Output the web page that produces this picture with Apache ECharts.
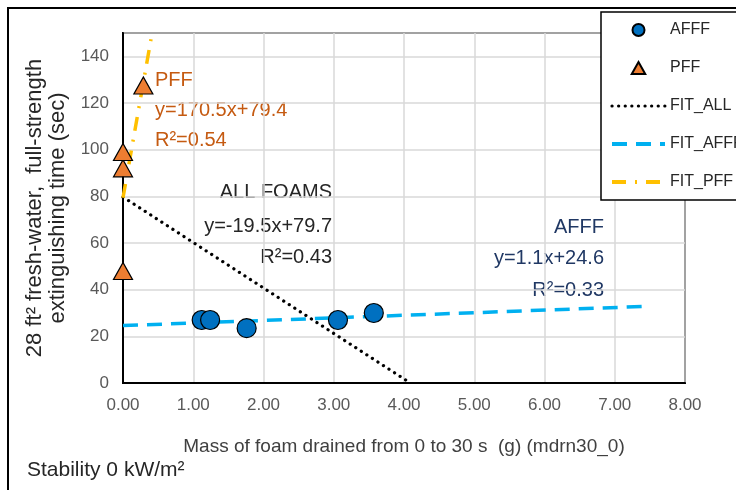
<!DOCTYPE html>
<html><head><meta charset="utf-8">
<script src="https://cdn.jsdelivr.net/npm/echarts@6/dist/echarts.min.js"></script>
<style>html,body{margin:0;padding:0;background:#fff}#c{width:736px;height:490px}</style>
</head><body><div id="c"></div>
<script>
// Data
const afffPoints = [[1.12, 27], [1.24, 27], [1.76, 23.5], [3.06, 27], [3.57, 30]];
const pffPoints = [[0, 48], [0, 92], [0, 99], [0.29, 127.5]];
const fitAll = [[0, 79.7], [4.09, 0]];
const fitAfff = [[0, 24.6], [7.5, 32.9]];
const fitPff = [[0, 79.4], [0.414, 150]];
const xTicks = [0, 8, 1];   // min, max, interval
const yTicks = [0, 150, 20];
const legendNames = ['AFFF', 'PFF', 'FIT_ALL', 'FIT_AFFF', 'FIT_PFF'];

const FONT = '"Liberation Sans", Arial, sans-serif';
const chart = echarts.init(document.getElementById('c'));
const hideDot = { opacity: 0 };
chart.setOption({
  animation: false,
  backgroundColor: '#fff',
  textStyle: { fontFamily: FONT },
  grid: { left: 123, top: 33, right: 51, bottom: 107, show: true, borderColor: '#000', borderWidth: 2, backgroundColor: 'transparent' },
  xAxis: {
    type: 'value', min: xTicks[0], max: xTicks[1], interval: xTicks[2],
    axisLine: { show: true, lineStyle: { color: '#000', width: 2 } },
    axisTick: { show: false },
    splitLine: { show: true, lineStyle: { color: '#d9d9d9', width: 1.5 } },
    axisLabel: { color: '#595959', fontSize: 17, fontFamily: FONT, margin: 14, formatter: v => v.toFixed(2) },
    name: 'Mass of foam drained from 0 to 30 s  (g) (mdrn30_0)',
    nameLocation: 'middle', nameGap: 54,
    nameTextStyle: { color: '#404040', fontSize: 19, fontFamily: FONT }
  },
  yAxis: {
    type: 'value', min: yTicks[0], max: yTicks[1], interval: yTicks[2],
    axisLine: { show: true, lineStyle: { color: '#000', width: 2 } },
    axisTick: { show: false },
    splitLine: { show: true, lineStyle: { color: '#d9d9d9', width: 1.5 } },
    axisLabel: { color: '#595959', fontSize: 17, fontFamily: FONT, margin: 14, showMaxLabel: false },
    name: '28 ft² fresh-water,  full-strength\nextinguishing time (sec)',
    nameLocation: 'middle', nameGap: 47, nameRotate: 90,
    nameTextStyle: { color: '#262626', fontSize: 22, fontFamily: FONT, lineHeight: 23, align: 'center' }
  },
  legend: {
    orient: 'vertical', left: 601, top: 12,
    padding: [10, 30, 10, 9],
    backgroundColor: '#fff', borderColor: '#000', borderWidth: 1.5,
    itemWidth: 53, itemHeight: 12, itemGap: 22,
    textStyle: { color: '#262626', fontSize: 16, fontFamily: FONT },
    data: [
      { name: legendNames[0] },
      { name: legendNames[1], icon: 'path://M0,-1L0.9,0.6L-0.9,0.6Z' },
      { name: legendNames[2], itemStyle: hideDot, lineStyle: { width: 3.2 } },
      { name: legendNames[3], itemStyle: hideDot, lineStyle: { width: 4 } },
      { name: legendNames[4], itemStyle: hideDot, lineStyle: { width: 4 } }
    ]
  },
  graphic: [
    { type: 'rect', shape: { x: 8, y: 8, width: 800, height: 600 }, style: { fill: 'none', stroke: '#000', lineWidth: 2 }, z: 100, silent: true },
    { type: 'text', x: 155, y: 80, style: { text: 'PFF', fill: '#C55A11', font: '20px ' + FONT, verticalAlign: 'middle' } },
    { type: 'text', x: 155, y: 110, style: { text: 'y=170.5x+79.4', fill: '#C55A11', font: '20px ' + FONT, verticalAlign: 'middle' } },
    { type: 'text', x: 155, y: 140, style: { text: 'R²=0.54', fill: '#C55A11', font: '20px ' + FONT, verticalAlign: 'middle' } },
    { type: 'text', x: 332, y: 192, style: { text: 'ALL FOAMS', fill: '#262626', font: '20px ' + FONT, align: 'right', verticalAlign: 'middle' } },
    { type: 'text', x: 332, y: 226, style: { text: 'y=-19.5x+79.7', fill: '#262626', font: '20px ' + FONT, align: 'right', verticalAlign: 'middle' } },
    { type: 'text', x: 332, y: 257, style: { text: 'R²=0.43', fill: '#262626', font: '20px ' + FONT, align: 'right', verticalAlign: 'middle' } },
    { type: 'text', x: 604, y: 227, style: { text: 'AFFF', fill: '#203864', font: '20px ' + FONT, align: 'right', verticalAlign: 'middle' } },
    { type: 'text', x: 604, y: 258, style: { text: 'y=1.1x+24.6', fill: '#203864', font: '20px ' + FONT, align: 'right', verticalAlign: 'middle' } },
    { type: 'text', x: 604, y: 290, style: { text: 'R²=0.33', fill: '#203864', font: '20px ' + FONT, align: 'right', verticalAlign: 'middle' } },
    { type: 'text', x: 27, y: 470, style: { text: 'Stability 0 kW/m²', fill: '#262626', font: '21px ' + FONT, verticalAlign: 'middle' } }
  ],
  series: [
    { name: 'FIT_ALL', type: 'line', data: fitAll, symbol: 'none', z: 2,
      lineStyle: { color: '#000', width: 3.2, type: [0.1, 6.5], cap: 'round' }, itemStyle: { color: '#000' } },
    { name: 'FIT_AFFF', type: 'line', data: fitAfff, symbol: 'none', z: 2,
      lineStyle: { color: '#00B0F0', width: 3.5, type: [15, 9] }, itemStyle: { color: '#00B0F0' } },
    { name: 'FIT_PFF', type: 'line', data: fitPff, symbol: 'none', z: 2, clip: true,
      lineStyle: { color: '#FFC000', width: 3.5, type: [14, 9, 2, 9] }, itemStyle: { color: '#FFC000' } },
    { name: 'AFFF', type: 'scatter', data: afffPoints, symbol: 'circle', symbolSize: 19, z: 5,
      itemStyle: { color: '#0070C0', borderColor: '#000', borderWidth: 1.2, opacity: 1 } },
    { name: 'PFF', type: 'scatter', data: pffPoints, symbol: 'triangle', symbolSize: [19, 17], z: 5,
      itemStyle: { color: '#ED7D31', borderColor: '#000', borderWidth: 1.2, opacity: 1 } }
  ]
});
</script></body></html>
